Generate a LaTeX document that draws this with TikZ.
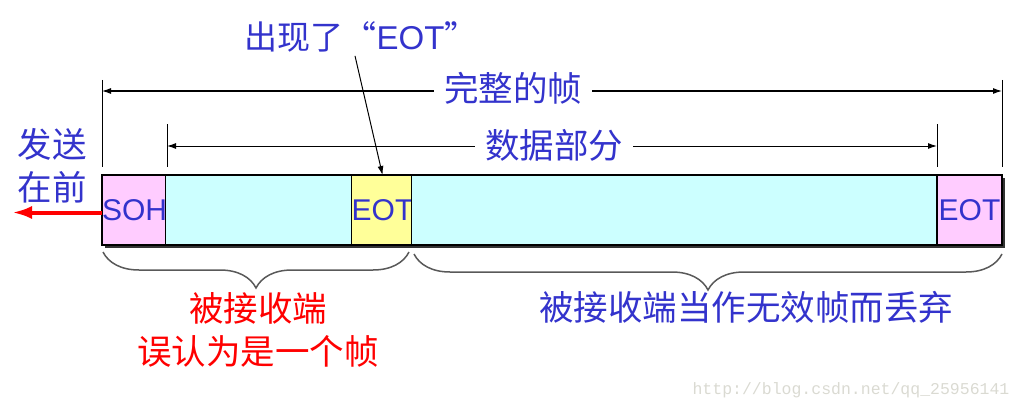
\documentclass[tikz,border=0pt]{standalone}
\usepackage{fontspec}
\setmainfont{Liberation Sans}
\newfontfamily\cjk{Noto Sans CJK SC}
\newfontfamily\wmfont{Liberation Mono}
\usepackage{tikz}
\usetikzlibrary{positioning,arrows.meta,decorations.pathreplacing}
\definecolor{textblue}{RGB}{51,51,204}
\definecolor{sohpink}{RGB}{255,204,255}
\definecolor{datacyan}{RGB}{204,255,255}
\definecolor{eotyellow}{RGB}{255,255,153}
\definecolor{wmgray}{RGB}{218,218,210}

\begin{document}
\begin{tikzpicture}[x=1pt,y=-1pt,
  field/.style={draw, line width=1.5pt, minimum height=70pt, inner sep=0pt,
    outer sep=0pt, anchor=west, text=textblue, font=\fontsize{30}{36}\selectfont},
  cnlabel/.style={text=textblue, font=\cjk\fontsize{34.5}{42.5}\selectfont,
    align=center, inner xsep=10pt},
  dimline/.style={line width=1pt, -{Latex[length=9pt,width=6pt]}},
  tick/.style={line width=1pt},
  bracepath/.style={decorate, decoration={brace, amplitude=36pt},
    draw=black!65, line width=1.5pt},
]
  \useasboundingbox (0,0) rectangle (1023,412);
  % shadow under the frame
  \fill[black!80] (105,178) rectangle (1005,248);
  % the frame
  \node[field, minimum width=63.7pt, fill=sohpink] (soh) at (102,210) {SOH};
  \node[field, minimum width=186pt, fill=datacyan] (dataA) at (165.7,210) {};
  \node[field, minimum width=59.6pt, fill=eotyellow] (eotA) at (351.7,210) {EOT};
  \node[field, minimum width=525.7pt, fill=datacyan] (dataB) at (411.3,210) {};
  \node[field, minimum width=65pt, fill=sohpink] (eotB) at (937,210) {EOT};

  % dimensions
  \draw[tick] (102,80) -- (102,167);
  \draw[tick] (1002,80) -- (1002,167);
  \draw[tick] (167,124) -- (167,167);
  \draw[tick] (937,124) -- (937,167);
  \coordinate (wl) at (102,91);
  \coordinate (wr) at (1002,91);
  \coordinate (dl) at (167,146);
  \coordinate (dr) at (937,146);
  \node[cnlabel] (whole) at (513,88) {完整的帧};
  \draw[dimline] (whole.west |- wl) -- (wl);
  \draw[dimline] (whole.east |- wr) -- (wr);
  \node[cnlabel] (data) at (554,145) {数据部分};
  \draw[dimline] (data.west |- dl) -- (dl);
  \draw[dimline] (data.east |- dr) -- (dr);

  % the false EOT
  \node[text=textblue, font=\fontsize{33}{40}\selectfont] (note) at (361,37)
    {{\cjk 出现了“}EOT{\cjk ”}};
  \draw[dimline] ([xshift=-6pt]note.south) -- (eotA.north);

  % sending direction
  \node[cnlabel] (send) at (52,166) {发送\\在前};
  \coordinate (sendtip) at (12,212.5);
  \draw[red, line width=4pt, -{Latex[length=20pt,width=13pt]}] (soh.west |- sendtip) -- (sendtip);

  % braces
  \draw[bracepath] (409,252) -- (103,252);
  \draw[bracepath] (1002,254) -- (414,254);
  \node[cnlabel, text=red] (mistake) at (258,330) {被接收端\\误认为是一个帧};
  \node[cnlabel] (discard) at (746,307) {被接收端当作无效帧而丢弃};

  \node[text=wmgray, font=\wmfont\fontsize{16.5}{20}\selectfont] (wm) at (851,390)
    {http://blog.csdn.net/qq\_25956141};
\end{tikzpicture}
\end{document}
